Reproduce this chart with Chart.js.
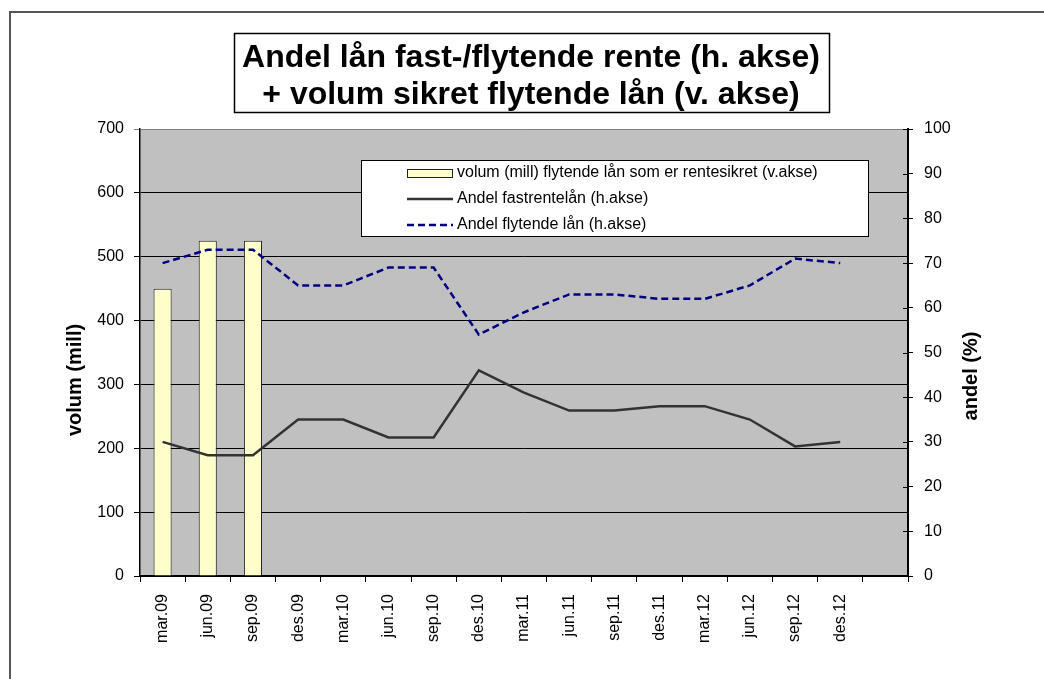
<!DOCTYPE html>
<html lang="no">
<head>
  <meta charset="UTF-8" />
  <title>Andel lån fast-/flytende rente</title>
  <script src="https://cdn.jsdelivr.net/npm/chart.js"></script>
  <style>
    html, body { margin: 0; padding: 0; background: #fff; }
    #wrap { width: 1044px; height: 679px; }
  </style>
</head>
<body>
  <div id="wrap"><canvas id="chartCanvas" width="1044" height="679"></canvas></div>

  <script>
    const labels = ["mar.09", "jun.09", "sep.09", "des.09", "mar.10", "jun.10", "sep.10", "des.10",
      "mar.11", "jun.11", "sep.11", "des.11", "mar.12", "jun.12", "sep.12", "des.12", ""];
    const volumSikret = [450, 525, 525, null, null, null, null, null, null, null, null, null, null, null, null, null, null];
    const andelFast = [30, 27, 27, 35, 35, 31, 31, 46, 41, 37, 37, 38, 38, 35, 29, 30, null];
    const andelFlytende = [70, 73, 73, 65, 65, 69, 69, 54, 59, 63, 63, 62, 62, 65, 71, 70, null];
    const titleLines = ["Andel lån fast-/flytende rente (h. akse)", "+ volum sikret flytende lån (v. akse)"];

    const FONT = "'Liberation Sans', Arial, sans-serif";
    Chart.defaults.font.family = FONT;
    Chart.defaults.color = "#000";

    // bakgrunn, ramme, tittel, aksetitler og forklaring
    const decor = {
      id: "decor",
      beforeDraw(chart) {
        const { ctx, chartArea: a } = chart;
        ctx.save();
        ctx.fillStyle = "#fff";
        ctx.fillRect(0, 0, chart.width, chart.height);
        ctx.strokeStyle = "#555";
        ctx.lineWidth = 2;
        ctx.beginPath();
        ctx.moveTo(10, chart.height + 5);
        ctx.lineTo(10, 12);
        ctx.lineTo(chart.width + 5, 12);
        ctx.stroke();
        ctx.fillStyle = "#c0c0c0";
        ctx.fillRect(a.left, a.top, a.right - a.left, a.bottom - a.top);
        ctx.restore();
      },
      afterDraw(chart) {
        const { ctx, chartArea: a } = chart;
        ctx.save();
        // tittel
        ctx.fillStyle = "#fff";
        ctx.fillRect(234, 33, 595, 79);
        ctx.strokeStyle = "#000";
        ctx.lineWidth = 1.5;
        ctx.strokeRect(234.5, 33.5, 595, 79);
        ctx.fillStyle = "#000";
        ctx.font = "bold 32px " + FONT;
        ctx.textAlign = "center";
        ctx.textBaseline = "middle";
        ctx.fillText(titleLines[0], 531, 58);
        ctx.fillText(titleLines[1], 531, 95);

        // aksetitler
        ctx.font = "bold 20px " + FONT;
        ctx.save();
        ctx.translate(75, 380);
        ctx.rotate(-Math.PI / 2);
        ctx.fillText("volum (mill)", 0, 0);
        ctx.restore();
        ctx.save();
        ctx.translate(971, 376);
        ctx.rotate(-Math.PI / 2);
        ctx.fillText("andel (%)", 0, 0);
        ctx.restore();

        // innvendige merker på høyre akse
        const y1 = chart.scales.y1;
        ctx.strokeStyle = "#000";
        ctx.lineWidth = 1;
        y1.ticks.forEach(t => {
          const yy = Math.round(y1.getPixelForValue(t.value)) + 0.5;
          ctx.beginPath();
          ctx.moveTo(a.right - 5, yy);
          ctx.lineTo(a.right, yy);
          ctx.stroke();
        });

        // forklaring
        const lx = 361, ly = 160, lw = 507, lh = 76;
        ctx.fillStyle = "#fff";
        ctx.fillRect(lx, ly, lw, lh);
        ctx.strokeStyle = "#000";
        ctx.lineWidth = 1;
        ctx.strokeRect(lx + 0.5, ly + 0.5, lw, lh);
        ctx.font = "16px " + FONT;
        ctx.textAlign = "left";
        chart.data.datasets.forEach((ds, i) => {
          const cy = 173 + i * 26;
          if (ds.type === "bar") {
            ctx.fillStyle = ds.backgroundColor;
            ctx.fillRect(407, cy - 4, 45, 8);
            ctx.strokeStyle = ds.borderColor;
            ctx.strokeRect(407.5, cy - 3.5, 45, 8);
          } else {
            ctx.strokeStyle = ds.borderColor;
            ctx.lineWidth = ds.borderWidth;
            ctx.setLineDash(ds.borderDash || []);
            ctx.beginPath();
            ctx.moveTo(407, cy);
            ctx.lineTo(453, cy);
            ctx.stroke();
            ctx.setLineDash([]);
            ctx.lineWidth = 1;
          }
          ctx.fillStyle = "#000";
          ctx.fillText(ds.label, 457, cy);
        });
        ctx.restore();
      }
    };

    const ctx = document.getElementById("chartCanvas").getContext("2d");
    new Chart(ctx, {
      type: "bar",
      data: {
        labels: labels,
        datasets: [
          {
            type: "bar",
            label: "volum (mill) flytende lån som er rentesikret (v.akse)",
            data: volumSikret,
            yAxisID: "y",
            backgroundColor: "#ffffcc",
            borderColor: "#222",
            borderWidth: 1,
            categoryPercentage: 0.4,
            barPercentage: 1,
            order: 2
          },
          {
            type: "line",
            label: "Andel fastrentelån (h.akse)",
            data: andelFast,
            yAxisID: "y1",
            borderColor: "#333333",
            borderWidth: 2.5,
            pointRadius: 0,
            tension: 0,
            order: 1
          },
          {
            type: "line",
            label: "Andel flytende lån (h.akse)",
            data: andelFlytende,
            yAxisID: "y1",
            borderColor: "#000080",
            borderWidth: 2.5,
            borderDash: [7, 4],
            pointRadius: 0,
            tension: 0,
            order: 1
          }
        ]
      },
      options: {
        responsive: false,
        animation: false,
        layout: { padding: { left: 0, right: 0, top: 129, bottom: 0 } },
        plugins: {
          legend: { display: false },
          tooltip: { enabled: false }
        },
        scales: {
          x: {
            offset: true,
            grid: { offset: true, drawOnChartArea: false, drawTicks: true, tickLength: 6, color: "#000" },
            border: { color: "#000", width: 2 },
            ticks: { font: { size: 16 }, maxRotation: 90, minRotation: 90, padding: 12, autoSkip: false },
            afterFit(scale) { scale.height = 103; }
          },
          y: {
            position: "left",
            min: 0,
            max: 700,
            ticks: { stepSize: 100, font: { size: 16 }, padding: 10 },
            grid: {
              color: c => (c.tick && c.tick.value === 700 ? "#808080" : "#000"),
              lineWidth: 1,
              tickLength: 6
            },
            border: { color: "#000", width: 1.5 },
            afterFit(scale) { scale.width = 140; }
          },
          y1: {
            position: "right",
            min: 0,
            max: 100,
            ticks: { stepSize: 10, font: { size: 16 }, padding: 11 },
            grid: { drawOnChartArea: false, tickLength: 5, color: "#000" },
            border: { color: "#000", width: 2 },
            afterFit(scale) { scale.width = 136; }
          }
        }
      },
      plugins: [decor]
    });
  </script>
</body>
</html>
